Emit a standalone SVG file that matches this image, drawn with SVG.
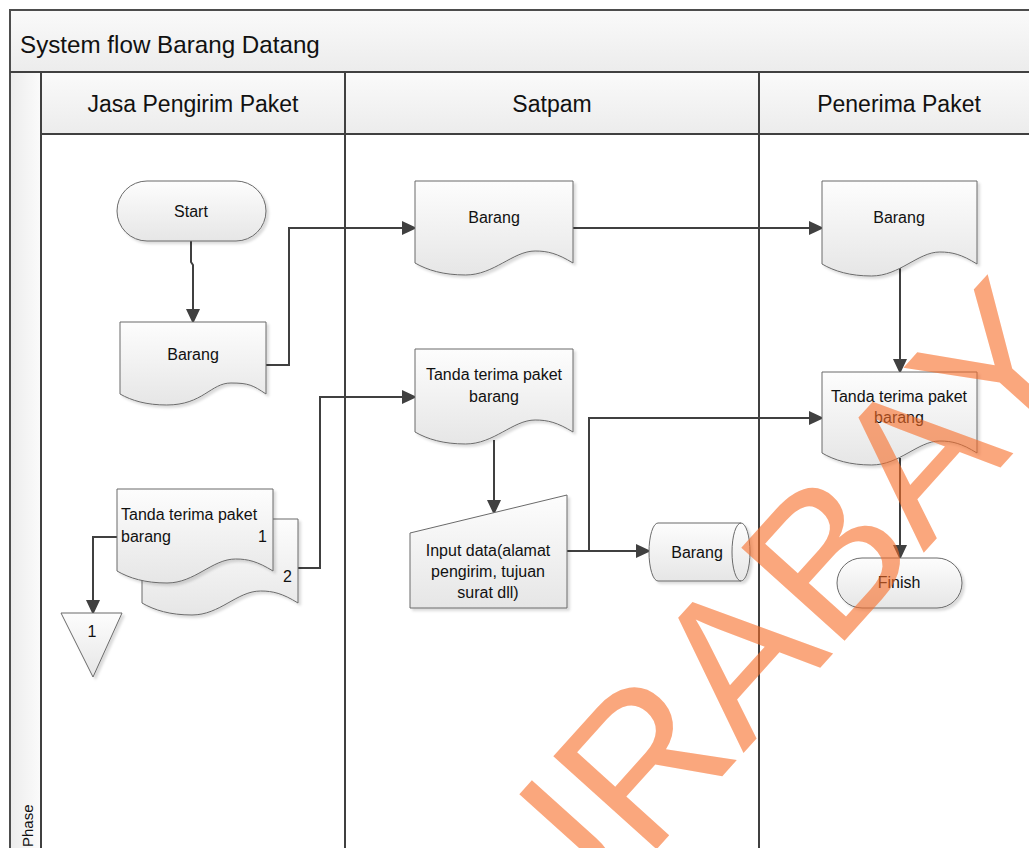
<svg xmlns="http://www.w3.org/2000/svg" width="1029" height="848" viewBox="0 0 1029 848">
  <defs>
    <linearGradient id="shapeFill" x1="0" y1="0" x2="0" y2="1">
      <stop offset="0" stop-color="#fdfdfd"/>
      <stop offset="1" stop-color="#e6e6e6"/>
    </linearGradient>
    <linearGradient id="bandFill" x1="0" y1="0" x2="0" y2="1">
      <stop offset="0" stop-color="#fafafa"/>
      <stop offset="1" stop-color="#ececec"/>
    </linearGradient>
    <linearGradient id="phaseFill" x1="0" y1="0" x2="1" y2="0">
      <stop offset="0" stop-color="#ececec"/>
      <stop offset="1" stop-color="#fbfbfb"/>
    </linearGradient>
    <filter id="shadow" x="-10%" y="-10%" width="125%" height="130%">
      <feDropShadow dx="2.5" dy="2.5" stdDeviation="1.2" flood-color="#000" flood-opacity="0.14"/>
    </filter>
    <marker id="arrow" viewBox="0 0 15 14" refX="13" refY="7" markerWidth="15" markerHeight="14" markerUnits="userSpaceOnUse" orient="auto">
      <path d="M0,0 L15,7 L0,14 Z" fill="#404040"/>
    </marker>
  </defs>
  <style>
    .frame { fill: none; stroke: #4d4d4d; stroke-width: 2; }
    .lane { stroke: #404040; stroke-width: 2; fill: none; }
    .shape { fill: url(#shapeFill); stroke: #6a6a6a; stroke-width: 1; filter: url(#shadow); }
    .conn { fill: none; stroke: #404040; stroke-width: 2; marker-end: url(#arrow); }
    .hdr { font-family: "Liberation Sans", Arial, sans-serif; font-size: 23px; fill: #111; }
    .title { font-size: 24.2px; }
    .lbl { font-family: "Liberation Sans", Arial, sans-serif; font-size: 16px; fill: #111; }
    .phase { font-size: 15px; }
    .mid { text-anchor: middle; }
  </style>

  <rect x="0" y="0" width="1029" height="848" fill="#ffffff"/>

  <!-- pool frame, title band, lane headers -->
  <g id="pool">
    <rect x="10" y="10" width="1040" height="62" fill="url(#bandFill)"/>
    <rect x="41" y="72" width="1010" height="62" fill="url(#bandFill)"/>
    <rect x="10" y="72" width="31" height="790" fill="url(#phaseFill)"/>
    <path class="frame" d="M1040,10 H10 V860"/>
    <path class="lane" d="M10,72 H1040 M41,134 H1040 M41,72 V860 M345,72 V860 M759,72 V860"/>
    <text class="hdr title" x="20" y="53">System flow Barang Datang</text>
    <text class="hdr mid" x="193" y="112">Jasa Pengirim Paket</text>
    <text class="hdr mid" x="552" y="112">Satpam</text>
    <text class="hdr mid" x="899" y="112">Penerima Paket</text>
    <text class="lbl phase" transform="translate(33,847) rotate(-90)">Phase</text>
  </g>

  <!-- connectors -->
  <g id="connectors">
    <path class="conn" d="M191,241 V262 L193,265 V322"/>
    <path class="conn" d="M266,365 H289 V228 H415"/>
    <path class="conn" d="M573,228 H822"/>
    <path class="conn" d="M298,568 H320 V397 H415"/>
    <path class="conn" d="M117,537 H93 V613"/>
    <path class="conn" d="M494,440 V513"/>
    <path class="conn" d="M567,551 H649"/>
    <path class="conn" d="M589,551 V418 H822"/>
    <path class="conn" d="M900,268 V372"/>
    <path class="conn" d="M900,458 V558"/>
  </g>

  <!-- Jasa Pengirim Paket lane -->
  <g id="start">
    <rect class="shape" x="117" y="181" width="149" height="60" rx="30" ry="30"/>
    <text class="lbl mid" x="191" y="217">Start</text>
  </g>

  <g id="doc-barang-sender">
    <path class="shape" d="M120,322 H266 V394 C252.9,385.2 248.6,383 230.96,383 C210.5,383 203,405 166.7,405 C146.3,405 131.7,400.6 120,394 Z"/>
    <text class="lbl mid" x="193" y="360">Barang</text>
  </g>

  <g id="doc-tanda-terima-copies">
    <path class="shape" d="M142,519 H298 V603 C282.4,593.4 273,591 260.6,591 C237,591 220,615 192,615 C170,615 154.5,610.2 142,603 Z"/>
    <text class="lbl" x="283" y="582">2</text>
    <path class="shape" d="M117,489 H273 V571 C257.4,561.4 248,559 235.6,559 C212,559 195,583 167,583 C145,583 129.5,578.2 117,571 Z"/>
    <text class="lbl" x="121" y="520">Tanda terima paket</text>
    <text class="lbl" x="121" y="542">barang</text>
    <text class="lbl" x="258" y="542">1</text>
  </g>

  <g id="offpage-1">
    <polygon class="shape" points="61,613 122,613 93,677"/>
    <text class="lbl mid" x="92" y="637">1</text>
  </g>

  <!-- Satpam lane -->
  <g id="doc-barang-satpam">
    <path class="shape" d="M415,181 H573 V263 C557.2,253.4 547.8,251 535.1,251 C513,251 494,275 465.6,275 C443.4,275 427.6,270.2 415,263 Z"/>
    <text class="lbl mid" x="494" y="223">Barang</text>
  </g>

  <g id="doc-tanda-terima-satpam">
    <path class="shape" d="M415,349 H573 V432 C557.2,422.4 547.8,420 535.1,420 C513,420 494,444 465.6,444 C443.4,444 427.6,439.2 415,432 Z"/>
    <text class="lbl mid" x="494" y="380">Tanda terima paket</text>
    <text class="lbl mid" x="494" y="402">barang</text>
  </g>

  <g id="input-data">
    <polygon class="shape" points="410,533 567,495 567,608 410,608"/>
    <text class="lbl mid" x="488" y="556">Input data(alamat</text>
    <text class="lbl mid" x="488" y="577">pengirim, tujuan</text>
    <text class="lbl mid" x="488" y="598">surat dll)</text>
  </g>

  <g id="storage-barang">
    <path class="shape" d="M658,523 H741 A9,29 0 0 1 741,581 H658 A9,29 0 0 1 658,523 Z"/>
    <path d="M741,523 A9,29 0 0 0 741,581" fill="none" stroke="#6a6a6a" stroke-width="1"/>
    <text class="lbl mid" x="697" y="558">Barang</text>
  </g>

  <!-- Penerima Paket lane -->
  <g id="doc-barang-penerima">
    <path class="shape" d="M822,181 H977 V264 C961.5,254.4 952.2,252 939.8,252 C918,252 899.5,276 871.6,276 C849.9,276 834.4,271.2 822,264 Z"/>
    <text class="lbl mid" x="899" y="223">Barang</text>
  </g>

  <g id="doc-tanda-terima-penerima">
    <path class="shape" d="M822,372 H977 V453 C961.5,443.4 952.2,441 939.8,441 C918,441 899.5,465 871.6,465 C849.9,465 834.4,460.2 822,453 Z"/>
    <text class="lbl mid" x="899" y="402">Tanda terima paket</text>
    <text class="lbl mid" x="899" y="423">barang</text>
  </g>

  <g id="finish">
    <rect class="shape" x="837" y="558" width="125" height="50" rx="25" ry="25"/>
    <text class="lbl mid" x="899" y="588">Finish</text>
  </g>

  <!-- watermark -->
  <g id="watermark">
    <text transform="translate(548,970) rotate(-48)" x="0" y="0" font-family="Liberation Sans, Arial, sans-serif" font-size="202" fill="#f86d28" opacity="0.6">URABAY</text>
  </g>
</svg>
